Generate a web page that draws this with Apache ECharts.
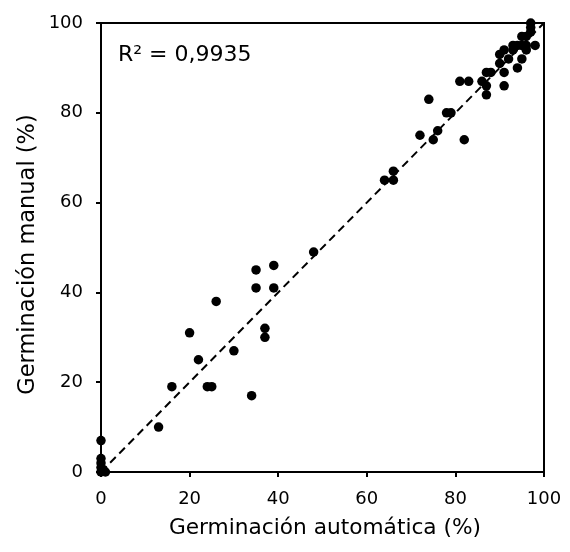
<!DOCTYPE html>
<html>
<head>
<meta charset="utf-8">
<script src="https://cdn.jsdelivr.net/npm/echarts@6/dist/echarts.min.js"></script>
<style>
html,body{margin:0;padding:0;background:#fff;}
#chart{width:570px;height:552px;}
</style>
</head>
<body>
<div id="chart"></div>
<script>
var autoGerm = [0, 0, 0, 0, 0, 1, 0.5,
  13, 16, 24, 25, 34, 22, 30, 20, 37, 37, 26, 35, 39, 35, 39, 48,
  64, 66, 66, 72, 75, 76, 74, 78, 79, 82, 81, 83, 86, 87, 87, 87, 88, 91, 90, 91,
  98, 96, 95, 94, 93, 91, 90, 92, 95, 94, 96, 97, 97, 97, 95, 96, 93];
var manualGerm = [0, 1, 2, 3, 7, 0, 0.5,
  10, 19, 19, 19, 17, 25, 27, 31, 30, 32, 38, 41, 41, 45, 46, 49,
  65, 65, 67, 75, 74, 76, 83, 80, 80, 74, 87, 87, 87, 86, 84, 89, 89, 86, 91, 89,
  95, 95, 95, 95, 95, 94, 93, 92, 92, 90, 97, 98, 99, 100, 97, 94, 94];
var fitLine = [[0, 0], [100, 100]];
var axisTicks = [0, 20, 40, 60, 80, 100];
var r2Text = 'R\u00B2 = 0,9935';
var xTitle = 'Germinación automática (%)';
var yTitle = 'Germinación manual (%)';

var points = autoGerm.map(function (x, i) { return [x, manualGerm[i]]; });

var font = 'DejaVu Sans';
var chart = echarts.init(document.getElementById('chart'));
chart.setOption({
  animation: false,
  backgroundColor: '#fff',
  grid: { left: 101, right: 26, top: 23, bottom: 80, show: true, borderColor: '#000', borderWidth: 2, backgroundColor: 'transparent' },
  xAxis: {
    type: 'value', min: axisTicks[0], max: axisTicks[axisTicks.length - 1], interval: 20,
    name: xTitle, nameLocation: 'middle', nameGap: 45,
    nameTextStyle: { fontFamily: font, fontSize: 21.7, color: '#000', padding: [0, 0, 0, 5] },
    axisLine: { lineStyle: { color: '#000', width: 2 } },
    axisTick: { show: true, inside: false, length: 5, lineStyle: { color: '#000', width: 2 } },
    axisLabel: { fontFamily: font, fontSize: 18, color: '#000', margin: 18 },
    splitLine: { show: false }
  },
  yAxis: {
    type: 'value', min: axisTicks[0], max: axisTicks[axisTicks.length - 1], interval: 20,
    axisLine: { lineStyle: { color: '#000', width: 2 } },
    axisTick: { show: true, inside: false, length: 5, lineStyle: { color: '#000', width: 2 } },
    axisLabel: { fontFamily: font, fontSize: 18, color: '#000', margin: 18 },
    splitLine: { show: false }
  },
  graphic: [{
    type: 'text', left: 118, top: 44,
    style: { text: r2Text, font: '22px "DejaVu Sans"', fill: '#000' }
  }, {
    type: 'text', x: 28, y: 254.5, rotation: Math.PI / 2,
    style: { text: yTitle, font: '22.5px "DejaVu Sans"', fill: '#000', align: 'center', verticalAlign: 'middle' }
  }],
  series: [{
    type: 'line', data: fitLine, symbol: 'none', silent: true, z: 1,
    lineStyle: { color: '#000', width: 2, type: [8, 5] }
  }, {
    type: 'scatter', data: points, symbol: 'circle', symbolSize: 9.5, clip: false, z: 3,
    itemStyle: { color: '#000', opacity: 1 }
  }]
});
</script>
</body>
</html>
